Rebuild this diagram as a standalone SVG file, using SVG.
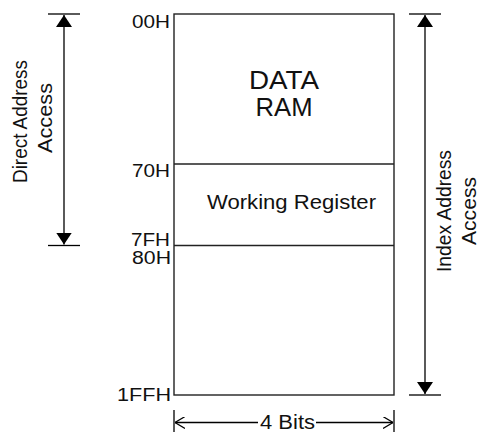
<svg xmlns="http://www.w3.org/2000/svg" width="478" height="432" viewBox="0 0 478 432">
  <defs>
    <marker id="solid" viewBox="0 0 12 16" refX="12" refY="8" markerWidth="12" markerHeight="16" markerUnits="userSpaceOnUse" orient="auto-start-reverse">
      <path d="M0,0 L12,8 L0,16 Z" fill="#000"/>
    </marker>
    <marker id="open" viewBox="0 0 10 12" refX="10" refY="6" markerWidth="10" markerHeight="12" markerUnits="userSpaceOnUse" orient="auto-start-reverse">
      <path d="M0,0 L10,6 L0,12" fill="none" stroke="#000" stroke-width="1.2"/>
    </marker>
  </defs>
  <style>
    text { font-family: "Liberation Sans", Arial, sans-serif; fill: #111; }
    .addr { font-size: 17.5px; text-anchor: end; }
    .side { font-size: 21px; text-anchor: middle; }
    .box { fill: #fff; stroke: #222; stroke-width: 1.4; }
    .div { stroke: #222; stroke-width: 1.3; }
    .tick { stroke: #000; stroke-width: 1.3; }
    .dim { stroke: #000; stroke-width: 1.3; fill: none; }
  </style>

  <!-- memory block -->
  <g id="data-ram">
    <rect class="box" x="174" y="14" width="220" height="381"/>
    <text x="284" y="89" font-size="25" text-anchor="middle" textLength="70" lengthAdjust="spacingAndGlyphs">DATA</text>
    <text x="284" y="116" font-size="25" text-anchor="middle" textLength="57" lengthAdjust="spacingAndGlyphs">RAM</text>
  </g>
  <g id="working-register">
    <line class="div" x1="174" y1="164" x2="394" y2="164"/>
    <line class="div" x1="174" y1="245.5" x2="394" y2="245.5"/>
    <text x="207" y="209" font-size="21" textLength="169" lengthAdjust="spacingAndGlyphs">Working Register</text>
  </g>

  <!-- address labels -->
  <g id="addresses">
    <text class="addr" x="170" y="27.5" textLength="38" lengthAdjust="spacingAndGlyphs">00H</text>
    <text class="addr" x="170" y="177" textLength="38" lengthAdjust="spacingAndGlyphs">70H</text>
    <text class="addr" x="170" y="245.5" textLength="39" lengthAdjust="spacingAndGlyphs">7FH</text>
    <text class="addr" x="171" y="263.5" textLength="39" lengthAdjust="spacingAndGlyphs">80H</text>
    <text class="addr" x="171" y="401" textLength="54" lengthAdjust="spacingAndGlyphs">1FFH</text>
  </g>

  <!-- dimension connectors -->
  <g id="connectors">
    <line class="tick" x1="48" y1="14" x2="80" y2="14"/>
    <line class="tick" x1="48" y1="245.5" x2="80" y2="245.5"/>
    <line class="dim" x1="64" y1="15" x2="64" y2="244.5" marker-start="url(#solid)" marker-end="url(#solid)"/>

    <line class="tick" x1="409" y1="14" x2="441" y2="14"/>
    <line class="tick" x1="409" y1="395" x2="441" y2="395"/>
    <line class="dim" x1="425" y1="15" x2="425" y2="394" marker-start="url(#solid)" marker-end="url(#solid)"/>

    <line class="tick" x1="174" y1="410" x2="174" y2="432"/>
    <line class="tick" x1="394" y1="410" x2="394" y2="432"/>
    <line class="dim" x1="175" y1="422.5" x2="258" y2="422.5" marker-start="url(#open)"/>
    <line class="dim" x1="316" y1="422.5" x2="393" y2="422.5" marker-end="url(#open)"/>
  </g>

  <!-- dimension labels -->
  <g id="direct-label">
    <text class="side" transform="translate(26.5,121.5) rotate(-90)" textLength="123" lengthAdjust="spacingAndGlyphs">Direct Address</text>
    <text class="side" transform="translate(52,118) rotate(-90)" textLength="70" lengthAdjust="spacingAndGlyphs">Access</text>
  </g>
  <g id="index-label">
    <text class="side" transform="translate(451,211) rotate(-90)" textLength="122" lengthAdjust="spacingAndGlyphs">Index Address</text>
    <text class="side" transform="translate(475.5,211) rotate(-90)" textLength="68" lengthAdjust="spacingAndGlyphs">Access</text>
  </g>
  <g id="width-label">
    <text x="260" y="428.5" font-size="20" textLength="55" lengthAdjust="spacingAndGlyphs">4 Bits</text>
  </g>
</svg>
